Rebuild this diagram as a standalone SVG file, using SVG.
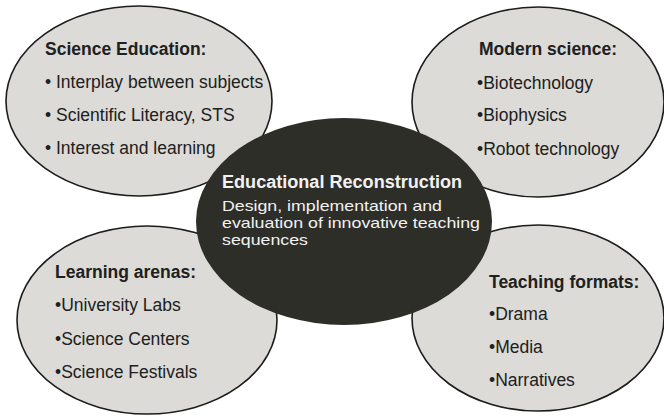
<svg xmlns="http://www.w3.org/2000/svg" width="664" height="416" viewBox="0 0 664 416">
<style>
.bub{fill:#dcdbd7;stroke:#1c1c1c;stroke-width:1.6}
.core{fill:#2e2e29;stroke:none}
text{font-family:"Liberation Sans",Arial,sans-serif;font-size:17.5px;fill:#202020}
.h{font-weight:bold}
.w{fill:#f2f2f2}
.s{font-size:15px}
</style>
<rect width="664" height="416" fill="#ffffff"/>
<g id="science-education">
<ellipse class="bub" cx="139" cy="101" rx="133" ry="95"/>
<text class="h" x="45" y="55">Science Education:</text>
<text x="45" y="88">• Interplay between subjects</text>
<text x="45" y="121">• Scientific Literacy, STS</text>
<text x="45" y="154">• Interest and learning</text>
</g>
<g id="learning-arenas">
<ellipse class="bub" cx="147" cy="320" rx="130" ry="94"/>
<text class="h" x="55" y="278">Learning arenas:</text>
<text x="55" y="311">•University Labs</text>
<text x="55" y="345">•Science Centers</text>
<text x="55" y="378">•Science Festivals</text>
</g>
<g id="modern-science">
<ellipse class="bub" cx="538" cy="102" rx="126" ry="95"/>
<text class="h" x="479" y="55">Modern science:</text>
<text x="477" y="89">•Biotechnology</text>
<text x="477" y="121">•Biophysics</text>
<text x="477" y="155">•Robot technology</text>
</g>
<g id="teaching-formats">
<ellipse class="bub" cx="538" cy="318" rx="126" ry="93"/>
<text class="h" x="489" y="288">Teaching formats:</text>
<text x="489" y="320">•Drama</text>
<text x="489" y="353">•Media</text>
<text x="489" y="386">•Narratives</text>
</g>
<g id="educational-reconstruction">
<ellipse class="core" cx="344" cy="221.5" rx="148" ry="103.5"/>
<text class="h w" x="222" y="188" textLength="240" lengthAdjust="spacingAndGlyphs">Educational Reconstruction</text>
<text class="w s" x="222" y="211" textLength="220" lengthAdjust="spacingAndGlyphs">Design, implementation and</text>
<text class="w s" x="222" y="228" textLength="258" lengthAdjust="spacingAndGlyphs">evaluation of innovative teaching</text>
<text class="w s" x="222" y="245" textLength="86" lengthAdjust="spacingAndGlyphs">sequences</text>
</g>
<g id="connectors"></g>
</svg>
